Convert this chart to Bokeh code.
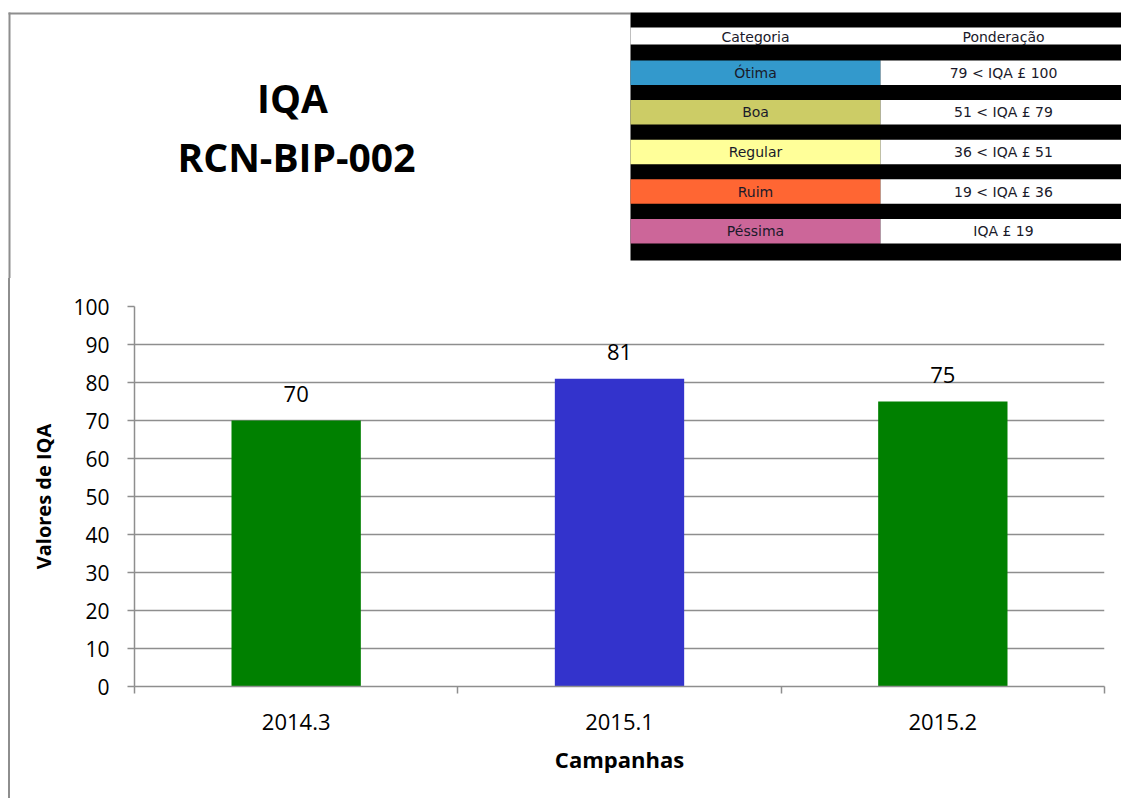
from bokeh.plotting import figure
from bokeh.models import Range1d, FixedTicker, ColumnDataSource, Div
from bokeh.layouts import column, row
from bokeh.core.properties import value
from bokeh.embed import file_html
from bokeh.resources import INLINE

# ---------------- data ----------------
campanhas = ["2014.3", "2015.1", "2015.2"]
iqa_values = [70, 81, 75]
bar_colors = ["#008000", "#3333CC", "#008000"]
y_ticks = [0, 10, 20, 30, 40, 50, 60, 70, 80, 90, 100]

title_lines = ["IQA", "RCN-BIP-002"]
table_header = ["Categoria", "Ponderação"]
categorias = ["Ótima", "Boa", "Regular", "Ruim", "Péssima"]
ponderacao = ["79 < IQA £ 100", "51 < IQA £ 79", "36 < IQA £ 51", "19 < IQA £ 36", "IQA £ 19"]
cat_colors = ["#3399CC", "#CCCC66", "#FFFF99", "#FF6633", "#CC6699"]

FONT = "Open Sans"
GRAY = "#8e8e8e"
TFONT = "DejaVu Sans"

# ---------------- top panel: title + legend table ----------------
TW, TH = 1121, 278
top = figure(width=TW, height=TH, output_backend="svg", toolbar_location=None,
             x_range=Range1d(0, TW), y_range=Range1d(TH, 0),
             x_axis_location=None, y_axis_location=None, min_border=0)
top.grid.visible = False
top.outline_line_color = None

# frame border
top.segment(x0=[8, 9], y0=[13, 12], x1=[630, 9], y1=[13, TH],
            line_color=GRAY, line_width=2)

# title
top.text(x=[292, 296], y=[97, 156], text=title_lines, text_align="center",
         text_baseline="middle", text_font=value(FONT), text_font_style="bold",
         text_font_size="39px", text_color="black")

# table
tl, tm, tr = 630, 880, TW
top.quad(left=[tl], right=[tr], top=[12], bottom=[260], fill_color="black", line_color=None)
top.quad(left=[tl], right=[tr], top=[27], bottom=[44], fill_color="white", line_color=None)
row_top = [60 + i * 39.6 for i in range(len(categorias))]
row_bot = [t + 24.5 for t in row_top]
row_mid = [t + 12.25 for t in row_top]
top.quad(left=[tl] * len(categorias), right=[tm] * len(categorias), top=row_top,
         bottom=row_bot, fill_color=cat_colors, line_color=None)
top.quad(left=[tm] * len(categorias), right=[tr] * len(categorias), top=row_top,
         bottom=row_bot, fill_color="white", line_color=None)
top.text(x=[755, 1003], y=[36, 36], text=table_header, text_align="center",
         text_baseline="middle", text_font=value(TFONT), text_font_size="14px",
         text_color="#1a1a2a")
top.text(x=[755] * len(categorias), y=row_mid, text=categorias, text_align="center",
         text_baseline="middle", text_font=value(TFONT), text_font_size="14px",
         text_color="#1a1a2a")
top.text(x=[1003] * len(categorias), y=row_mid, text=ponderacao, text_align="center",
         text_baseline="middle", text_font=value(TFONT), text_font_size="14px",
         text_color="#1a1a2a")

# ---------------- chart ----------------
CW, CH = 1111, 520
xpos = [i + 0.5 for i in range(len(campanhas))]
src = ColumnDataSource(dict(x=xpos, top=iqa_values, color=bar_colors,
                            label=[str(v) for v in iqa_values]))

p = figure(width=CW, height=CH, output_backend="svg", toolbar_location=None,
           x_range=Range1d(0, len(campanhas)), y_range=Range1d(0, 100),
           min_border_left=124, min_border_right=17, min_border_top=28, min_border_bottom=112)
p.outline_line_color = None
p.background_fill_color = "white"

p.vbar(x="x", top="top", width=0.4, bottom=0, fill_color="color", line_color=None, source=src)
p.text(x="x", y="top", text="label", source=src, text_align="center", text_baseline="middle",
       y_offset=-27, text_font=value(FONT), text_font_size="22px", text_color="black")

p.xgrid.visible = False
p.ygrid.ticker = FixedTicker(ticks=y_ticks)
p.ygrid.grid_line_color = GRAY
p.ygrid.grid_line_width = 1.5

p.yaxis.ticker = FixedTicker(ticks=y_ticks)
p.yaxis.axis_line_color = GRAY
p.yaxis.axis_line_width = 1.5
p.yaxis.major_tick_line_color = GRAY
p.yaxis.major_tick_line_width = 1.5
p.yaxis.major_tick_out = 7
p.yaxis.major_tick_in = 0
p.yaxis.minor_tick_line_color = None
p.yaxis.major_label_standoff = 18
p.yaxis.major_label_text_font = FONT
p.yaxis.major_label_text_font_size = "21px"
p.yaxis.major_label_text_color = "black"
p.yaxis.axis_label = "Valores de IQA"
p.yaxis.axis_label_text_font = FONT
p.yaxis.axis_label_text_font_style = "bold"
p.yaxis.axis_label_text_font_size = "20px"
p.yaxis.axis_label_text_color = "black"
p.yaxis.axis_label_standoff = 13

p.xaxis.ticker = FixedTicker(ticks=xpos, minor_ticks=list(range(len(campanhas) + 1)))
p.xaxis.major_label_overrides = {x: c for x, c in zip(xpos, campanhas)}
p.xaxis.axis_line_color = GRAY
p.xaxis.axis_line_width = 1.5
p.xaxis.major_tick_line_color = None
p.xaxis.major_tick_out = 0
p.xaxis.major_tick_in = 0
p.xaxis.minor_tick_line_color = GRAY
p.xaxis.minor_tick_line_width = 1.5
p.xaxis.minor_tick_out = 7
p.xaxis.minor_tick_in = 0
p.xaxis.major_label_standoff = 20
p.xaxis.major_label_text_font = FONT
p.xaxis.major_label_text_font_size = "22px"
p.xaxis.major_label_text_color = "black"
p.xaxis.axis_label = "Campanhas"
p.xaxis.axis_label_text_font = FONT
p.xaxis.axis_label_text_font_style = "bold"
p.xaxis.axis_label_text_font_size = "22px"
p.xaxis.axis_label_text_color = "black"
p.xaxis.axis_label_standoff = 11

pad = Div(width=8, height=CH, margin=0, styles={"background-color": "white"})
border = Div(width=2, height=CH, margin=0, styles={"background-color": GRAY})
layout = column(top, row(pad, border, p, spacing=0), spacing=0)

open("out.html", "w").write(file_html(layout, INLINE))
